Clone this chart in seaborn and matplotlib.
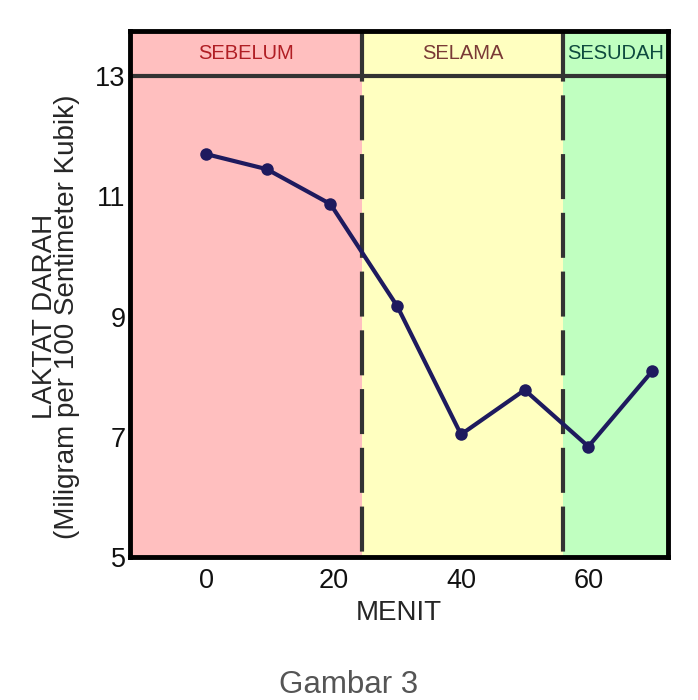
import matplotlib
matplotlib.use("Agg")
import matplotlib.pyplot as plt
import seaborn as sns
import pandas as pd

menit = [0, 9.5, 19.5, 30, 40, 50, 60, 70]
laktat = [11.7, 11.45, 10.87, 9.17, 7.04, 7.78, 6.84, 8.09]
phases = ["SEBELUM", "SELAMA", "SESUDAH"]
phase_edges = [-12, 24.5, 56, 72.5]
phase_colors = ["#FFBFBF", "#FFFFC0", "#C0FFC0"]
phase_text_colors = ["#B01E24", "#7A3A36", "#0E4A3E"]
xticks = [0, 20, 40, 60]
yticks = [5, 7, 9, 11, 13]

sns.set_style("white")
plt.rcParams["font.family"] = ["Liberation Sans", "DejaVu Sans"]

fig = plt.figure(figsize=(6.98, 7.0), dpi=100)
ax = fig.add_axes([0.186, 0.204, 0.771, 0.752])

ymin, ymax, yhead = 5, 13.75, 13
for i, name in enumerate(phases):
    ax.axvspan(phase_edges[i], phase_edges[i + 1], color=phase_colors[i], zorder=0, lw=0)
    ax.text((phase_edges[i] + phase_edges[i + 1]) / 2, (yhead + ymax) / 2, name,
            ha="center", va="center", fontsize=14.5, color=phase_text_colors[i])

ax.axhline(yhead, color="#333333", lw=3, zorder=2)
for e in phase_edges[1:-1]:
    ax.plot([e, e], [ymin, yhead], color="#333333", lw=3,
            ls=(12.8, (10.8, 3.3)), zorder=2)
    ax.plot([e, e], [yhead, ymax], color="#333333", lw=3, zorder=2)

df = pd.DataFrame({"menit": menit, "laktat": laktat})
sns.lineplot(data=df, x="menit", y="laktat", ax=ax, color="#1E1A5E", lw=3,
             marker="o", markersize=9, markeredgewidth=0, zorder=3)

ax.set_xlim(phase_edges[0], phase_edges[-1])
ax.set_ylim(ymin, ymax)
ax.set_xticks(xticks)
ax.set_yticks(yticks)
ax.tick_params(direction="in", length=10, width=3, color="#222222", labelsize=19.5,
               labelcolor="#111111")
ax.tick_params(axis="x", pad=8)
ax.tick_params(axis="y", pad=3)
for s in ax.spines.values():
    s.set_linewidth(3.5)
    s.set_color("black")
ax.set_xlabel("MENIT", fontsize=20, labelpad=4)
ax.set_ylabel("LAKTAT DARAH\n(Miligram per 100 Sentimeter Kubik)", fontsize=20,
              linespacing=0.82)
ax.yaxis.set_label_coords(-0.092, (yhead - ymin) / 2 / (ymax - ymin))

fig.text(0.5, 0.022, "Gambar 3", ha="center", va="center", fontsize=22.5, color="#555555")

fig.savefig("out.png", dpi=100)
